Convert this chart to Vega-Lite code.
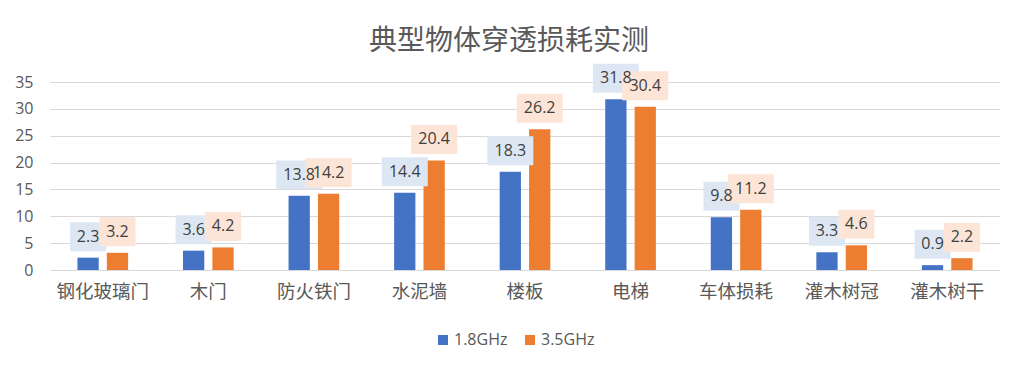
{
  "$schema": "https://vega.github.io/schema/vega-lite/v6.json",
  "width": 950,
  "height": 188,
  "autosize": "none",
  "padding": {"left": 50, "top": 82, "right": 18, "bottom": 101},
  "background": "white",
  "title": {"text": "典型物体穿透损耗实测", "font": "Noto Sans CJK SC", "fontSize": 28, "fontWeight": "normal", "color": "#595959", "offset": 8, "dx": -16, "anchor": "middle", "frame": "group"},
  "config": {"view": {"stroke": null}},
  "data": {"values": [
    {"cat": "钢化玻璃门", "series": "1.8GHz", "v": 2.3},
    {"cat": "钢化玻璃门", "series": "3.5GHz", "v": 3.2},
    {"cat": "木门", "series": "1.8GHz", "v": 3.6},
    {"cat": "木门", "series": "3.5GHz", "v": 4.2},
    {"cat": "防火铁门", "series": "1.8GHz", "v": 13.8},
    {"cat": "防火铁门", "series": "3.5GHz", "v": 14.2},
    {"cat": "水泥墙", "series": "1.8GHz", "v": 14.4},
    {"cat": "水泥墙", "series": "3.5GHz", "v": 20.4},
    {"cat": "楼板", "series": "1.8GHz", "v": 18.3},
    {"cat": "楼板", "series": "3.5GHz", "v": 26.2},
    {"cat": "电梯", "series": "1.8GHz", "v": 31.8},
    {"cat": "电梯", "series": "3.5GHz", "v": 30.4},
    {"cat": "车体损耗", "series": "1.8GHz", "v": 9.8},
    {"cat": "车体损耗", "series": "3.5GHz", "v": 11.2},
    {"cat": "灌木树冠", "series": "1.8GHz", "v": 3.3},
    {"cat": "灌木树冠", "series": "3.5GHz", "v": 4.6},
    {"cat": "灌木树干", "series": "1.8GHz", "v": 0.9},
    {"cat": "灌木树干", "series": "3.5GHz", "v": 2.2}
  ]},
  "transform": [{"calculate": "length(format(datum.v, '.1f'))", "as": "len"}],
  "encoding": {
    "x": {"field": "cat", "type": "nominal", "sort": null,
      "scale": {"paddingInner": 0.52, "paddingOuter": 0.26},
      "axis": {"title": null, "labelAngle": 0, "ticks": false, "domain": false, "labelPadding": 12, "labelFont": "Noto Sans CJK SC", "labelFontSize": 18.5, "labelColor": "#595959"}},
    "xOffset": {"field": "series", "type": "nominal", "scale": {"paddingInner": 0.276, "paddingOuter": 0}},
    "y": {"field": "v", "type": "quantitative", "scale": {"domain": [0, 35]},
      "axis": {"title": null, "values": [0, 5, 10, 15, 20, 25, 30, 35], "ticks": false, "domain": false, "labelPadding": 17, "labelFont": "Open Sans", "labelFontSize": 16, "labelColor": "#595959", "gridColor": "#d9d9d9", "gridWidth": 1.2}}
  },
  "layer": [
    {"mark": {"type": "bar"},
      "encoding": {"color": {"field": "series", "type": "nominal",
        "scale": {"domain": ["1.8GHz", "3.5GHz"], "range": ["#4472C4", "#ED7D31"]},
        "legend": {"title": null, "orient": "none", "legendX": 385, "legendY": 250, "direction": "horizontal", "symbolType": "square", "symbolSize": 100, "symbolStrokeWidth": 0, "labelFont": "Open Sans", "labelFontSize": 16, "labelColor": "#595959", "columnPadding": 14, "labelOffset": 3}}}},
    {"transform": [{"filter": "datum.series === '1.8GHz'"}],
      "mark": {"type": "point", "filled": true, "fill": "#DDE7F4", "opacity": 1, "size": 2116, "yOffset": -21},
      "encoding": {"shape": {"field": "len", "type": "ordinal", "scale": {"domain": [3, 4], "range": ["M-0.783,-0.63L0.783,-0.63L0.783,0.63L-0.783,0.63Z", "M-1,-0.63L1,-0.63L1,0.63L-1,0.63Z"]}, "legend": null}}},
    {"transform": [{"filter": "datum.series === '3.5GHz'"}],
      "mark": {"type": "point", "filled": true, "fill": "#FCE5D7", "opacity": 1, "size": 2116, "yOffset": -21},
      "encoding": {"shape": {"field": "len", "type": "ordinal", "scale": {"domain": [3, 4], "range": ["M-0.783,-0.63L0.783,-0.63L0.783,0.63L-0.783,0.63Z", "M-1,-0.63L1,-0.63L1,0.63L-1,0.63Z"]}, "legend": null}}},
    {"mark": {"type": "text", "font": "Open Sans", "fontSize": 16, "color": "#404040", "baseline": "middle", "align": "center", "yOffset": -21},
      "encoding": {"text": {"field": "v", "type": "quantitative", "format": ".1f"}}}
  ]
}
